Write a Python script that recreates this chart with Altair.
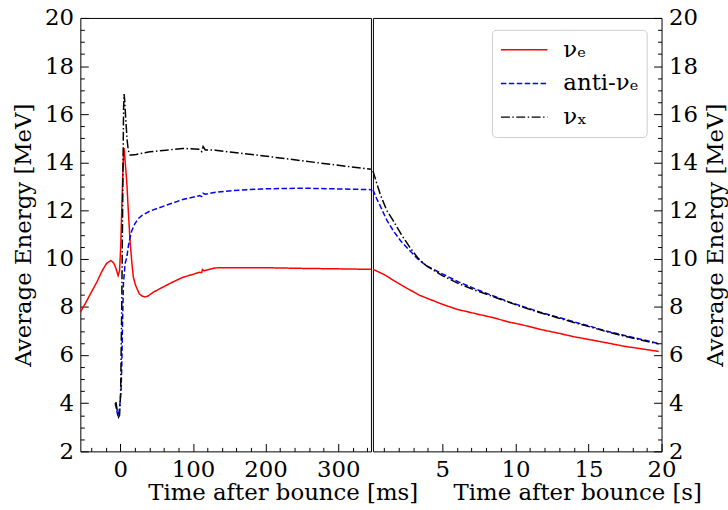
import altair as alt
import pandas as pd

SERIES = ["νₑ", "anti-νₑ", "νₓ"]
COLORS = ["#ff0000", "#0000ff", "#000000"]
DASHES = [[1, 0], [5.5, 2.5], [9, 2.5, 1.5, 2.5]]
FONT = "'DejaVu Serif', 'Liberation Serif', serif"
FS = 23

# ---- left panel: time after bounce [ms] ----
nue_ms_t = [-55, -48, -40, -32, -25, -19, -13, -9, -6, -3, -1, 0.7, 2.5, 4, 5.2, 6.5, 8.9, 11, 13.4, 16,
            18, 21, 26, 30, 34, 38, 45, 54, 70, 86, 100, 109, 112, 113, 115, 131, 154, 195, 250, 300, 345]
nue_ms_E = [7.78, 8.15, 8.6, 9.05, 9.5, 9.8, 9.93, 9.82, 9.6, 9.3, 9.5, 10.6, 12.6, 14.0, 14.6, 14.1, 13.2, 12.0, 10.74, 9.8,
            9.23, 8.9, 8.55, 8.45, 8.41, 8.45, 8.6, 8.75, 9.0, 9.23, 9.35, 9.44, 9.42, 9.55, 9.5, 9.62, 9.63, 9.63, 9.6, 9.58, 9.56]

anti_ms_t = [-7, -5, -3, -1, 1, 2, 3, 4.3, 6.6, 8.9, 11, 13.4, 15.7, 20, 24.8, 30, 40.7, 63, 86, 109,
             112, 114, 117, 131, 154, 195, 250, 300, 345]
anti_ms_E = [4.0, 3.7, 3.45, 3.8, 4.5, 5.5, 7.2, 8.96, 9.8, 10.05, 10.5, 10.88, 11.15, 11.45, 11.67, 11.8, 11.98, 12.22, 12.46, 12.62,
             12.58, 12.72, 12.68, 12.76, 12.83, 12.9, 12.93, 12.9, 12.87]

nux_ms_t = [-6, -4, -2.5, -1, 0.5, 2, 3.5, 4.5, 5.2, 6, 7.5, 9.5, 11, 13.4, 16, 22, 30, 40.7, 63, 86,
            109, 112, 114, 117, 131, 154, 195, 250, 300, 345]
nux_ms_E = [4.05, 3.65, 3.42, 3.5, 4.5, 8.0, 13.0, 16.2, 16.84, 16.6, 15.8, 14.9, 14.5, 14.31, 14.31, 14.33, 14.38, 14.44, 14.51, 14.58,
            14.55, 14.45, 14.66, 14.52, 14.51, 14.42, 14.28, 14.07, 13.88, 13.72]

# ---- right panel: time after bounce [s] ----
nue_s_t = [0.25, 1.0, 1.66, 2.5, 3.45, 5.0, 6.0, 7.27, 8.5, 9.5, 10.5, 11.75, 13.0, 14.0, 15.0, 16.23, 17.5, 18.5, 19.8]
nue_s_E = [9.56, 9.35, 9.1, 8.8, 8.48, 8.11, 7.9, 7.72, 7.55, 7.38, 7.25, 7.06, 6.9, 6.76, 6.65, 6.51, 6.36, 6.27, 6.15]

anti_s_t = [0.25, 0.5, 0.76, 1.2, 1.66, 2.2, 2.78, 3.3, 3.9, 5.0, 6.14, 7.2, 8.38, 9.5, 10.6, 11.7, 12.87, 14.0, 15.1, 16.2, 17.35, 18.5, 19.8]
anti_s_E = [12.87, 12.5, 12.18, 11.6, 11.15, 10.7, 10.33, 10.0, 9.71, 9.37, 9.03, 8.76, 8.48, 8.22, 8.0, 7.78, 7.58, 7.38, 7.2, 7.0, 6.83, 6.67, 6.48]

nux_s_t = [0.25, 0.5, 0.76, 1.2, 1.66, 2.2, 2.78, 3.3, 3.9, 5.0, 6.14, 7.2, 8.38, 9.5, 10.6, 11.7, 12.87, 14.0, 15.1, 16.2, 17.35, 18.5, 19.8]
nux_s_E = [13.65, 13.15, 12.66, 12.0, 11.56, 11.0, 10.47, 10.05, 9.71, 9.3, 8.96, 8.7, 8.45, 8.2, 7.97, 7.76, 7.55, 7.35, 7.17, 6.98, 6.8, 6.64, 6.46]

Y_MAJOR = [2, 4, 6, 8, 10, 12, 14, 16, 18, 20]
Y_MINOR = [v / 2 for v in range(5, 40) if v % 4 != 0]
XMS_MAJOR = [0, 100, 200, 300]
XMS_MINOR = [v for v in range(-40, 345, 20) if v % 100 != 0]
XS_MAJOR = [5, 10, 15, 20]
XS_MINOR = [v for v in range(1, 20) if v % 5 != 0]


def frame(parts):
    rows = []
    for name, ts, es in parts:
        for t, e in zip(ts, es):
            rows.append({"t": t, "E": e, "series": name})
    return pd.DataFrame(rows)


left_df = frame([(SERIES[0], nue_ms_t, nue_ms_E), (SERIES[1], anti_ms_t, anti_ms_E), (SERIES[2], nux_ms_t, nux_ms_E)])
right_df = frame([(SERIES[0], nue_s_t, nue_s_E), (SERIES[1], anti_s_t, anti_s_E), (SERIES[2], nux_s_t, nux_s_E)])

color_scale = alt.Scale(domain=SERIES, range=COLORS)
dash_scale = alt.Scale(domain=SERIES, range=DASHES)
y_scale = alt.Scale(domain=[2, 20], nice=False, zero=False)

legend = alt.Legend(
    title=None, orient="none", legendX=120, legendY=12,
    symbolType="stroke", symbolSize=2200, symbolStrokeWidth=1.5,
    labelOffset=15, padding=8, rowPadding=10, clipHeight=24,
    strokeColor="#cccccc", fillColor="white", cornerRadius=4,
    labelFont=FONT, labelFontSize=FS, labelColor="black",
)


def panel(df, xdomain, xmajor, xminor, xtitle, title_x, yorient, width, leg):
    base = alt.Chart(df)
    xs = alt.Scale(domain=xdomain, nice=False, zero=False)
    if yorient == "left":
        yaxis = alt.Axis(orient="left", values=Y_MAJOR, format="d", tickSize=8, offset=-8, domain=False,
                         labelPadding=7, labelOverlap=False, labelFlush=False,
                         title="Average Energy [MeV]", titlePadding=9)
    else:
        yaxis = alt.Axis(orient="right", values=Y_MAJOR, format="d", tickSize=8, offset=-8, domain=False,
                         labelPadding=7, labelOverlap=False, labelFlush=False,
                         title="Average Energy [MeV]", titlePadding=7, titleAngle=270, titleBaseline="top")
    xaxis = alt.Axis(orient="bottom", values=xmajor, format="d", tickSize=8, offset=-8, domain=False,
                     labelPadding=7, labelOverlap=False, labelFlush=False,
                     title=xtitle, titleX=title_x, titleY=57, titleAlign="center", titleBaseline="alphabetic")
    if leg:
        color = alt.Color("series:N", scale=color_scale, legend=legend)
        dash = alt.StrokeDash("series:N", scale=dash_scale, legend=legend)
    else:
        color = alt.Color("series:N", scale=color_scale, legend=None)
        dash = alt.StrokeDash("series:N", scale=dash_scale, legend=None)
    lines = base.mark_line(strokeWidth=1.5).encode(
        x=alt.X("t:Q", scale=xs, axis=xaxis),
        y=alt.Y("E:Q", scale=y_scale, axis=yaxis),
        color=color,
        strokeDash=dash,
    )
    minor = base.mark_point(opacity=0, size=1).encode(
        x=alt.X("t:Q", axis=alt.Axis(orient="bottom", values=xminor, tickSize=4, offset=-4, domain=False,
                                     labels=False, grid=False, title=None)),
        y=alt.Y("E:Q", axis=alt.Axis(orient=yorient, values=Y_MINOR, tickSize=4, offset=-4, domain=False,
                                     labels=False, grid=False, title=None)),
    )
    return alt.layer(lines, minor).resolve_axis(x="independent", y="independent").properties(width=width, height=437)


left = panel(left_df, [-55, 345], XMS_MAJOR, XMS_MINOR, "Time after bounce [ms]", 204, "left", 293, False)
right = panel(right_df, [0.25, 20], XS_MAJOR, XS_MINOR, "Time after bounce [s]", 206, "right", 291, True)

chart = (
    alt.hconcat(left, right, spacing=2, bounds="flush")
    .resolve_scale(color="independent", strokeDash="independent")
    .resolve_legend(color="independent", strokeDash="independent")
    .properties(padding={"left": 12, "top": 4, "right": 0, "bottom": 0})
    .configure_view(stroke="black", strokeWidth=1)
    .configure_axis(labelFont=FONT, labelFontSize=FS, titleFont=FONT, titleFontSize=FS, titleFontWeight="normal",
                    labelColor="black", titleColor="black", tickColor="black", tickWidth=1, grid=False)
    .configure_legend(labelFont=FONT, labelFontSize=FS)
)

chart.save("out.html", embed_options={"renderer": "svg", "actions": False})
